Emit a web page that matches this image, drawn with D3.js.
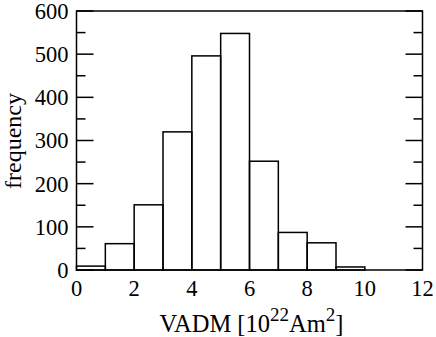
<!DOCTYPE html>
<meta charset="utf-8">
<script src="https://d3js.org/d3.v7.min.js"></script>
<style>
  body { margin: 0; background: #fff; }
  text { font-family: "Liberation Serif", "Times New Roman", serif; fill: #000; }
</style>
<svg id="hist" width="436" height="337"></svg>
<script>

  // bin edges and counts
  var binStart = [0, 1, 2, 3, 4, 5, 6, 7, 8, 9];
  var counts   = [9, 61, 151, 320, 496, 548, 252, 87, 63, 7];
  var xTicks = [0, 2, 4, 6, 8, 10, 12];
  var yTicks = [0, 100, 200, 300, 400, 500, 600];
  var yMinor = [50, 150, 250, 350, 450, 550];

  var svg = d3.select("#hist");
  var padL = 76.5, padR = 422.5, padT = 11, padB = 270;

  var x = d3.scaleLinear().domain([0, 12]).range([padL, padR]);
  var y = d3.scaleLinear().domain([0, 600]).range([padB, padT]);

  // bars
  svg.append("g")
    .selectAll("rect")
    .data(binStart)
    .enter()
    .append("rect")
    .attr("x", function(d) { return x(d); })
    .attr("width", function(d) { return x(d + 1) - x(d); })
    .attr("y", function(d, i) { return y(counts[i]); })
    .attr("height", function(d, i) { return y(0) - y(counts[i]); })
    .attr("fill", "none")
    .attr("stroke", "#000")
    .attr("stroke-width", 1.5);

  // frame
  svg.append("rect")
    .attr("x", padL).attr("y", padT)
    .attr("width", padR - padL).attr("height", padB - padT)
    .attr("fill", "none").attr("stroke", "#000").attr("stroke-width", 1.5);

  // y ticks, inward on both sides
  var ticks = svg.append("g").attr("stroke", "#000").attr("stroke-width", 1.5);
  yTicks.forEach(function(v) {
    ticks.append("line").attr("x1", padL).attr("x2", padL + 17).attr("y1", y(v)).attr("y2", y(v));
    ticks.append("line").attr("x1", padR).attr("x2", padR - 17).attr("y1", y(v)).attr("y2", y(v));
  });
  yMinor.forEach(function(v) {
    ticks.append("line").attr("x1", padL).attr("x2", padL + 9).attr("y1", y(v)).attr("y2", y(v));
    ticks.append("line").attr("x1", padR).attr("x2", padR - 9).attr("y1", y(v)).attr("y2", y(v));
  });

  // tick labels
  svg.append("g")
    .selectAll("text")
    .data(yTicks)
    .enter()
    .append("text")
    .attr("x", padL - 8)
    .attr("y", function(d) { return y(d); })
    .attr("dy", "0.35em")
    .attr("text-anchor", "end")
    .attr("font-size", 22.5)
    .text(function(d) { return d; });

  svg.append("g")
    .selectAll("text")
    .data(xTicks)
    .enter()
    .append("text")
    .attr("x", function(d) { return x(d); })
    .attr("y", 296)
    .attr("text-anchor", "middle")
    .attr("font-size", 22.5)
    .text(function(d) { return d; });

  // axis titles
  svg.append("text")
    .attr("transform", "translate(21,141) rotate(-90)")
    .attr("text-anchor", "middle")
    .attr("font-size", 24)
    .text("frequency");

  var xl = svg.append("text")
    .attr("x", 251.5).attr("y", 332)
    .attr("text-anchor", "middle")
    .attr("font-size", 24.5);
  xl.append("tspan").text("VADM [10");
  xl.append("tspan").attr("dy", -11).attr("font-size", 19).text("22");
  xl.append("tspan").attr("dy", 11).text("Am");
  xl.append("tspan").attr("dy", -11).attr("font-size", 19).text("2");
  xl.append("tspan").attr("dy", 11).text("]");

</script>
